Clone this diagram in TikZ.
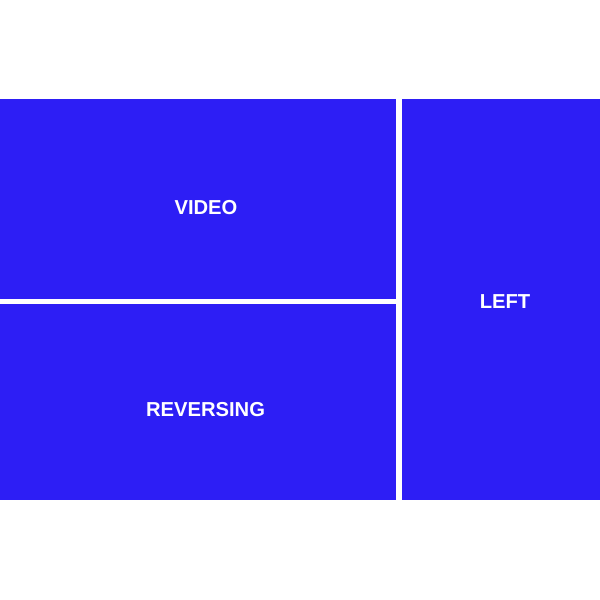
\documentclass[tikz,border=0pt]{standalone}
\usepackage{fontspec}
\setmainfont{Liberation Sans}
\definecolor{panelblue}{RGB}{45,30,245}
\begin{document}
\begin{tikzpicture}[x=1pt,y=-1pt,
  panel/.style={fill=panelblue,draw=none},
  lbl/.style={text=white,font=\fontsize{20.2}{24}\selectfont\bfseries,inner sep=0pt}]
\useasboundingbox[fill=white] (0,0) rectangle (600,600);
\fill[panel] (0,99) rectangle (396,299);
\fill[panel] (0,304) rectangle (396,500);
\fill[panel] (402,99) rectangle (600,500);
\node[lbl] (video) at (206,208) {VIDEO};
\node[lbl] (rev) at (205.5,410) {REVERSING};
\node[lbl] (left) at (505,302) {LEFT};
\end{tikzpicture}
\end{document}
